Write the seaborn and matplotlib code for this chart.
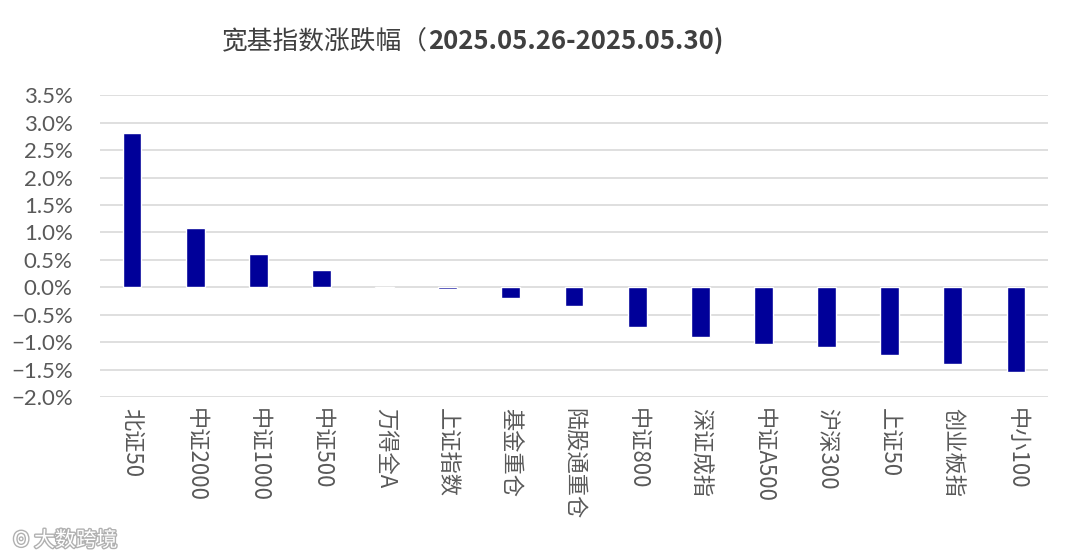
import matplotlib
matplotlib.use("Agg")
import matplotlib.pyplot as plt
import matplotlib.patheffects as pe
from matplotlib.ticker import PercentFormatter, MultipleLocator
import seaborn as sns
import pandas as pd

categories = ["北证50", "中证2000", "中证1000", "中证500", "万得全A", "上证指数", "基金重仓",
              "陆股通重仓", "中证800", "深证成指", "中证A500", "沪深300", "上证50", "创业板指", "中小100"]
changes = [2.81, 1.08, 0.61, 0.32, -0.01, -0.03, -0.20,
           -0.34, -0.73, -0.91, -1.03, -1.09, -1.23, -1.40, -1.55]
title_cn = "宽基指数涨跌幅（"
title_date = "2025.05.26-2025.05.30)"

df = pd.DataFrame({"index": categories, "change": changes})

sns.set_style("whitegrid", {"grid.color": "#d9d9d9", "axes.edgecolor": "white"})
plt.rcParams["font.family"] = ["Noto Sans CJK SC", "DejaVu Sans"]

fig = plt.figure(figsize=(10.8, 5.6), dpi=100)
ax = fig.add_axes([0.093, 0.291, 0.877, 0.539])

sns.barplot(data=df, x="index", y="change", color="#000099", width=0.3,
            saturation=1, ax=ax)

ax.set_ylim(-2.0, 3.5)
ax.set_xlim(-0.5, len(categories) - 0.5)
ax.yaxis.set_major_locator(MultipleLocator(0.5))
ax.yaxis.set_major_formatter(PercentFormatter(xmax=100, decimals=1))
ax.grid(axis="y", color="#d9d9d9", linewidth=1.2)
ax.grid(axis="x", visible=False)
ax.set_xlabel("")
ax.set_ylabel("")
for s in ax.spines.values():
    s.set_visible(False)

ax.tick_params(axis="y", length=0, pad=20, labelsize=16, labelcolor="#595959")
ax.tick_params(axis="x", length=0, pad=8, labelsize=16, labelcolor="#595959")
for lab in ax.get_yticklabels():
    lab.set_family(["Lato", "DejaVu Sans"])
for lab in ax.get_xticklabels():
    lab.set_rotation(-90)
    lab.set_ha("center")
    lab.set_va("top")

# title: Chinese part regular, date part bold
t1 = fig.text(222 / 1080, 1 - 42 / 560, title_cn, fontsize=18.5, color="#404040",
              ha="left", va="center")
fig.canvas.draw()
bb = t1.get_window_extent()
fig.text(bb.x1 / 1080, 1 - 42 / 560, title_date, fontsize=18.5, color="#404040",
         fontweight="bold", ha="left", va="center")

# watermark
fig.text(0.012, 0.035, "ʘ 大数跨境", fontsize=15, color="white", ha="left", va="center",
         path_effects=[pe.withStroke(linewidth=2, foreground="#b0b0b0")])

fig.savefig("out.png", dpi=100)
